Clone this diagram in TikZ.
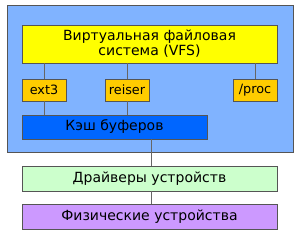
\documentclass[tikz,border=0pt]{standalone}
\usepackage{fontspec}
\setmainfont{DejaVu Sans}
\definecolor{outerblue}{HTML}{80B3FF}
\definecolor{vfsyellow}{HTML}{FFFF00}
\definecolor{fsorange}{HTML}{FFCC00}
\definecolor{cacheblue}{HTML}{0066FF}
\definecolor{drvgreen}{HTML}{CCFFCC}
\definecolor{physviolet}{HTML}{CC99FF}
\definecolor{edgegray}{HTML}{555555}
\definecolor{linegray}{HTML}{666666}
\begin{document}
\begin{tikzpicture}[x=1pt,y=-1pt,
  box/.style={draw=edgegray,line width=0.8pt,inner sep=0pt,align=center,font=\fontsize{14}{15}\selectfont},
  fsbox/.style={box,fill=fsorange,minimum width=44pt,minimum height=22pt,font=\fontsize{12.8}{14}\selectfont},
  conn/.style={draw=linegray,line width=0.8pt}]
\useasboundingbox (0,0) rectangle (300,236);
\path[fill=outerblue,draw=edgegray,line width=0.8pt] (7,5) rectangle (293,152);
\node[box,fill=vfsyellow,minimum width=255pt,minimum height=38pt] (vfs) at (149.5,44) {Виртуальная файловая\\система (VFS)};
\node[fsbox] (ext) at (44,90) {ext3};
\node[fsbox] (reiser) at (127,90) {reiser};
\node[fsbox] (proc) at (255,90) {/proc};
\node[box,fill=cacheblue,minimum width=185pt,minimum height=24pt] (cache) at (114.5,127) {Кэш буферов};
\node[box,fill=drvgreen,minimum width=255pt,minimum height=25pt] (drv) at (149.5,178.5) {Драйверы устройств};
\node[box,fill=physviolet,minimum width=255pt,minimum height=25pt] (phys) at (149.5,216.5) {Физические устройства};
\draw[conn] (vfs.south -| ext.north) -- (ext.north);
\draw[conn] (ext.south) -- (ext.south |- cache.north);
\draw[conn] (vfs.south -| reiser.north) -- (reiser.north);
\draw[conn] (reiser.south) -- (reiser.south |- cache.north);
\draw[conn] (vfs.south -| proc.north) -- (proc.north);
\draw[conn] (cache.south -| 151,0) -- (drv.north -| 151,0);
\draw[conn] (drv.south -| 151,0) -- (phys.north -| 151,0);
\end{tikzpicture}
\end{document}
